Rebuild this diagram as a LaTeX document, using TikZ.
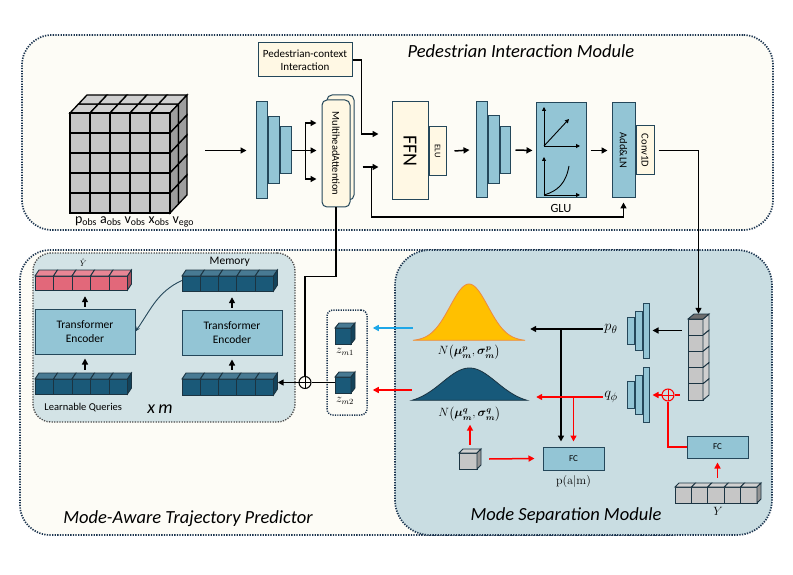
\documentclass[tikz,border=0pt]{standalone}
\usepackage{amsmath,amssymb}
\usepackage[no-math]{fontspec}
\setmainfont{Carlito}
\usepackage{tikz}
\usetikzlibrary{arrows.meta,positioning,fit}
\definecolor{mdline}{HTML}{1C3550}
\definecolor{mdcream}{HTML}{FDFCF6}
\definecolor{mdblue}{HTML}{C9DDE2}
\definecolor{xmfill}{HTML}{D3E3E6}
\definecolor{boxline}{HTML}{24475A}
\definecolor{boxblue}{HTML}{93C5D5}
\definecolor{boxcream}{HTML}{FFF8E4}
\definecolor{cubedark}{HTML}{1A5978}
\definecolor{cubepink}{HTML}{E2687A}
\definecolor{cubegray}{HTML}{C6C6C6}
\definecolor{cubeline}{HTML}{1B3442}
\definecolor{gyellow}{HTML}{FFC000}
\definecolor{gorange}{HTML}{EE8A40}
\definecolor{gdark}{HTML}{17597A}
\definecolor{msred}{HTML}{FF0000}
\definecolor{msblue}{HTML}{1EA7E8}

% row of cubes: name, x, y, n, w, h, dx, dy, colour
\newcommand{\cuberow}[9]{%
  \foreach \i in {1,...,#4}{
    \filldraw[draw=cubeline, line width=0.9pt, fill=#9] ({#2+(\i-1)*#5},#3) rectangle ++(#5,#6);
    \filldraw[draw=cubeline, line width=0.9pt, fill=#9!80!white] ({#2+(\i-1)*#5},#3) -- ++(#7,-#8) -- ++(#5,0) -- ++(-#7,#8) -- cycle;
  }
  \filldraw[draw=cubeline, line width=0.9pt, fill=#9!75!black] ({#2+#4*#5},#3) -- ++(#7,-#8) -- ++(0,#6) -- ++(-#7,#8) -- cycle;
  \node[fit={(#2,{#3-#8}) ({#2+#4*#5+#7},{#3+#6})}, inner sep=0pt] (#1) {};
}
% column of cubes: name, x, y, n, w, h, dx, dy, colour
\newcommand{\cubecol}[9]{%
  \foreach \i in {1,...,#4}{
    \filldraw[draw=cubeline, line width=0.9pt, fill=#9] (#2,{#3+(\i-1)*#6}) rectangle ++(#5,#6);
    \filldraw[draw=cubeline, line width=0.9pt, fill=#9!85!white] ({#2+#5},{#3+(\i-1)*#6}) -- ++(#7,-#8) -- ++(0,#6) -- ++(-#7,#8) -- cycle;
  }
  \filldraw[draw=cubeline, line width=0.9pt, fill=#9!55!black] (#2,#3) -- ++(#7,-#8) -- ++(#5,0) -- ++(-#7,#8) -- cycle;
  \node[fit={(#2,{#3-#8}) ({#2+#5+#7},{#3+#4*#6})}, inner sep=0pt] (#1) {};
}

\begin{document}
\begin{tikzpicture}[x=1pt, y=-1pt,
  module/.style={draw=mdline, line width=1.7pt, dash pattern=on 1.3pt off 1.3pt, rounded corners=30pt, inner sep=0pt},
  bluebox/.style={draw=boxline, fill=boxblue, line width=1pt, inner sep=0pt, align=center},
  creambox/.style={draw=boxline, fill=boxcream, line width=1pt, inner sep=0pt, align=center},
  title/.style={font=\fontsize{18.5}{21}\selectfont\itshape},
  ln/.style={line width=1.5pt, black},
  ar/.style={ln, -{Triangle[length=6pt, width=6pt]}},
  rln/.style={line width=1.5pt, msred},
  rar/.style={rln, -{Triangle[length=6pt, width=6pt]}},
  bar/.style={line width=1.5pt, msblue, -{Triangle[length=6pt, width=6pt]}},
  pl/.style={line width=0.9pt, black, -{Triangle[length=4pt, width=4pt]}},
  oplus/.style={circle, draw, line width=1pt, minimum size=12pt, inner sep=0pt,
    path picture={\draw[line width=1pt, #1] (path picture bounding box.north) -- (path picture bounding box.south)
      (path picture bounding box.west) -- (path picture bounding box.east);}},
]
\useasboundingbox (0,0) rectangle (793,575);

\node[module, fill=mdcream, minimum width=751, minimum height=195] (pim) at (397.5,132.5) {};
\node[module, fill=mdcream, minimum width=680, minimum height=285] (matp) at (360,392.5) {};
\node[module, fill=mdblue, rounded corners=35pt, minimum width=377, minimum height=285] (msm) at (583.5,392.5) {};
\node[module, fill=xmfill, draw=gray!60!black, line width=1.3pt, rounded corners=18pt, minimum width=262, minimum height=169] (xmbox) at (164,337.5) {};

\node[title] (pimt) at (521,51) {Pedestrian Interaction Module};
\node[title] (matpt) at (188,519) {Mode-Aware Trajectory Predictor};
\node[title] (msmt) at (566,516) {Mode Separation Module};

% input tensor
\foreach \c in {0,...,4}
  \foreach \k in {0,1}
    \filldraw[draw=black, line width=1.3pt, fill=cubegray!85!white] ({70+20*\c+8.5*\k},{113-9*\k}) -- ++(20,0) -- ++(8.5,-9) -- ++(-20,0) -- cycle;
\foreach \r in {0,...,4}
  \foreach \k in {0,1}
    \filldraw[draw=black, line width=1.3pt, fill=cubegray!80!black] ({170+8.5*\k},{113+20*\r-9*\k}) -- ++(0,20) -- ++(8.5,-9) -- ++(0,-20) -- cycle;
\foreach \r in {0,...,4}
  \foreach \c in {0,...,4}
    \filldraw[draw=black, line width=1.3pt, fill=cubegray] ({70+20*\c},{113+20*\r}) rectangle ++(20,20);
\node[fit={(70,95) (187,213)}, inner sep=0pt] (grid) {};
\node[below=0pt of grid, xshift=6pt, font=\fontsize{14}{16}\selectfont] (feat)
  {p\textsubscript{obs} a\textsubscript{obs} v\textsubscript{obs} x\textsubscript{obs} v\textsubscript{ego}};

\node[bluebox, minimum width=11, minimum height=97] (ea1) at (261.5,150.5) {};
\node[bluebox, minimum width=11, minimum height=67, right=0pt of ea1] (ea2) {};
\node[bluebox, minimum width=11, minimum height=47, right=0pt of ea2] (ea3) {};
\coordinate (fork) at ([xshift=14pt]ea3.east);

\node[creambox, rounded corners=5pt, minimum width=27, minimum height=105] (mhab) at (340.5,147.5) {};
\node[creambox, rounded corners=5pt, minimum width=28, minimum height=107, font=\fontsize{10.5}{11}\selectfont] (mha) at (336,153.5) {\rotatebox{-90}{MultiheadAttention}};
\node[creambox, minimum width=94, minimum height=34, font=\fontsize{11}{13}\selectfont] (ped) at (305,60) {Pedestrian-context\\Interaction};

\node[creambox, minimum width=36, minimum height=98, font=\fontsize{20}{21}\selectfont] (ffn) at (410,151) {\rotatebox{-90}{FFN}};
\node[creambox, minimum width=17, minimum height=49, right=0pt of ffn, font=\fontsize{8.5}{9}\selectfont] (elu) {\rotatebox{-90}{ELU}};

\node[bluebox, minimum width=11, minimum height=96] (eb1) at (481.5,150) {};
\node[bluebox, minimum width=11, minimum height=68, right=0pt of eb1] (eb2) {};
\node[bluebox, minimum width=10, minimum height=47, right=0pt of eb2] (eb3) {};

\node[bluebox, minimum width=50, minimum height=95] (glu) at (561,150.5) {};
\node[below=2pt of glu, font=\fontsize{12.5}{13}\selectfont] (glut) {GLU};
\draw[pl] (544,146) -- (544,107);
\draw[pl] (544,146) -- (580,146);
\draw[pl] (544,146) -- (569,119);
\draw[pl] (544,195) -- (544,157);
\draw[pl] (544,195) -- (580,195);
\draw[line width=0.9pt] (544,195) .. controls (558,191) and (566,183) .. (569,166);

\node[bluebox, minimum width=23, minimum height=95, font=\fontsize{10.5}{11}\selectfont] (addln) at (623.5,150.5) {\rotatebox{-90}{Add\&LN}};
\node[creambox, minimum width=18, minimum height=49, right=0pt of addln, font=\fontsize{10.5}{11}\selectfont] (conv) {\rotatebox{-90}{Conv1D}};

\draw[ar] ([xshift=18pt]grid.east |- ea1.west) -- ([xshift=-9pt]ea1.west);
\draw[ln] (ea3.east) -- (fork);
\foreach \s in {27.5,0,-28.5}
  \draw[ar, shorten >=5pt] (fork) |- ([yshift=\s pt]fork -| mha.west);
\draw[ar] (ped.east) -- ++(9,0) |- ([xshift=-13pt,yshift=17pt]ffn.west);
\coordinate (res) at ([xshift=8pt]mhab.east |- 0,167);
\draw[ar] (res) -- ([xshift=-13pt,yshift=-16pt]ffn.west);
\draw[ar] ([xshift=9pt]res) -- ++(0,50) -| ([yshift=-4pt]addln.south);
\draw[ar] ([xshift=8pt]elu.east) -- ([xshift=-6pt]eb1.west);
\draw[ar] ([xshift=5pt]eb3.east) -- ([xshift=-3pt]glu.west);
\draw[ar] ([xshift=4pt]glu.east) -- ([xshift=-4pt]addln.west);

% trajectory predictor
\cuberow{yhat}{35}{276}{5}{18.5}{14}{4}{6}{cubepink}
\cuberow{lq}{35}{379}{5}{18.5}{15}{4}{6}{cubedark}
\cuberow{mem}{182}{276}{5}{18.3}{15}{4}{6}{cubedark}
\cuberow{bk}{182}{379}{5}{18.3}{16}{4}{6}{cubedark}
\node[above=0pt of yhat, font=\fontsize{8.5}{9}\selectfont] (yhatt) {$\hat{Y}$};
\node[above=0pt of mem, font=\fontsize{11.5}{12}\selectfont] (memt) {Memory};
\node[below=5pt of lq, font=\fontsize{10.5}{11}\selectfont] (lqt) {Learnable Queries};
\node[font=\fontsize{18}{20}\selectfont\itshape] (xm) at (160,409) {x\,m};

\node[bluebox, minimum width=100, minimum height=45, font=\fontsize{11.5}{13.5}\selectfont] (teL) at (85,331.5) {Transformer\\Encoder};
\node[bluebox, minimum width=100, minimum height=45, font=\fontsize{11.5}{13.5}\selectfont] (teR) at (232,332.5) {Transformer\\Encoder};

\draw[ar] ([yshift=2pt]teL.north) -- ([yshift=-6pt]yhat.south -| teL.north);
\draw[ar] ([yshift=3pt]lq.north -| teL.south) -- ([yshift=-4pt]teL.south);
\draw[ar] ([yshift=2pt]teR.north) -- ([yshift=-6pt]mem.south -| teR.north);
\draw[ar] ([yshift=3pt]bk.north -| teR.south) -- ([yshift=-4pt]teR.south);
\draw[-{Stealth[length=5pt]}, boxline, line width=0.9pt] (mem.west) to[out=205, in=55] (teL.east);

\node[draw=mdline, line width=1.5pt, dash pattern=on 1.2pt off 1.2pt, rounded corners=6pt, minimum width=40, minimum height=105] (zmbox) at (347,362.5) {};
\cuberow{zm1}{335}{328}{1}{16}{16}{4}{5}{cubedark}
\cuberow{zm2}{335}{377}{1}{16}{16}{4}{5}{cubedark}
\node[below=1pt of zm1, font=\fontsize{11.5}{12}\selectfont] (zm1t) {$z_{m1}$};
\node[below=1pt of zm2, font=\fontsize{11.5}{12}\selectfont] (zm2t) {$z_{m2}$};
\node[oplus=black] (plus) at (305,382.5) {};
\draw[ln] (mha.south) -- ++(0,69) -| (plus.north);
\draw[ln] (zm2.west) -- (plus.east);
\draw[ar] (plus.west) -- (plus.west -| bk.east);

% mode separation
\filldraw[fill=gyellow, draw=gorange, line width=0.8pt] plot[domain=-56:56, samples=80] ({469+\x},{341-57*exp(-(\x/19)*(\x/19)/2)}) -- cycle;
\filldraw[fill=gdark, draw=cubeline, line width=0.8pt] plot[domain=-57.5:57.5, samples=80] ({469.5+\x},{404-36*exp(-(\x/27)*(\x/27)/2)}) -- cycle;
\node[fit={(413,284) (525,341)}, inner sep=0pt] (gp) {};
\node[fit={(412,369) (527,404)}, inner sep=0pt] (gq) {};
\node[below=0pt of gp, font=\fontsize{12}{13}\selectfont] (np) {$N\bigl(\boldsymbol{\mu_m^p},\boldsymbol{\sigma_m^p}\bigr)$};
\node[below=-1pt of gq, font=\fontsize{12}{13}\selectfont] (nq) {$N\bigl(\boldsymbol{\mu_m^q},\boldsymbol{\sigma_m^q}\bigr)$};

\node[bluebox, minimum width=7, minimum height=27] (pe1) at (630.5,330.5) {};
\node[bluebox, minimum width=7, minimum height=39, right=0pt of pe1] (pe2) {};
\node[bluebox, minimum width=6, minimum height=55, right=0pt of pe2] (pe3) {};
\node[bluebox, minimum width=7, minimum height=27] (qe1) at (630.5,395) {};
\node[bluebox, minimum width=7, minimum height=39, right=0pt of qe1] (qe2) {};
\node[bluebox, minimum width=6, minimum height=55, right=0pt of qe2] (qe3) {};
\node[font=\fontsize{15}{16}\selectfont] (pth) at (611,329) {$p_\theta$};
\node[font=\fontsize{15}{16}\selectfont] (qph) at (611,397) {$q_\phi$};

\cubecol{col}{688}{319}{5}{15}{16.2}{6}{5}{cubegray}
\cuberow{yrow}{675}{487}{5}{16.4}{16}{4}{4}{cubegray}
\cuberow{sc}{459}{453}{1}{18}{16}{4}{4}{cubegray}
\node[below=1pt of yrow, font=\fontsize{12.5}{13}\selectfont] (yt) {$Y$};

\node[bluebox, minimum width=61, minimum height=23, font=\fontsize{9}{10}\selectfont] (fc) at (573.5,458.5) {FC};
\node[below=1pt of fc, font=\fontsize{12.5}{13}\selectfont] (pam) {$\mathrm{p(a|m)}$};
\node[bluebox, minimum width=61, minimum height=22, font=\fontsize{9}{10}\selectfont] (fc2) at (717.5,447) {FC};
\node[oplus=msred, draw=msred] (rplus) at (668,395) {};

\draw[ar] ([xshift=4pt]conv.east) -| (col.north);
\draw[ar] ([xshift=-6pt]col.west |- pe3.east) -- ([xshift=3pt]pe3.east);
\draw[ar] ([xshift=2pt]pth.west) -- ([xshift=5pt]pth.west -| gp.east);
\draw[ar] ([xshift=-12.5pt]fc.north |- pth.west) -- ([xshift=-12.5pt,yshift=5pt]fc.north);
\draw[rar] ([xshift=2pt]qph.west) -- ([xshift=9pt]qph.west -| gq.east);
\draw[rar] (fc.north |- qph.west) -- ([yshift=5pt]fc.north);
\draw[rln] ([xshift=-8pt]col.west |- rplus.east) -- (rplus.east);
\draw[rar] (rplus.west) -- ([xshift=3pt]rplus.west -| qe3.east);
\draw[rln] (rplus.south) |- (fc2.west);
\draw[rar] ([yshift=5pt]yrow.north -| fc2.south) -- ([yshift=-4pt]fc2.south);
\draw[rar] ([yshift=4pt]sc.north) -- (sc.north |- nq.south);
\draw[rar] ([xshift=8pt]sc.east) -- ([xshift=-8pt]fc.west);

\draw[bar] ([yshift=-15.5pt]gp.west) -- ([yshift=-15.5pt, xshift=5pt]gp.west -| zmbox.east);
\draw[rar] ([yshift=-3.5pt]gq.west) -- ([yshift=-3.5pt, xshift=5pt]gq.west -| zmbox.east);

\end{tikzpicture}
\end{document}
